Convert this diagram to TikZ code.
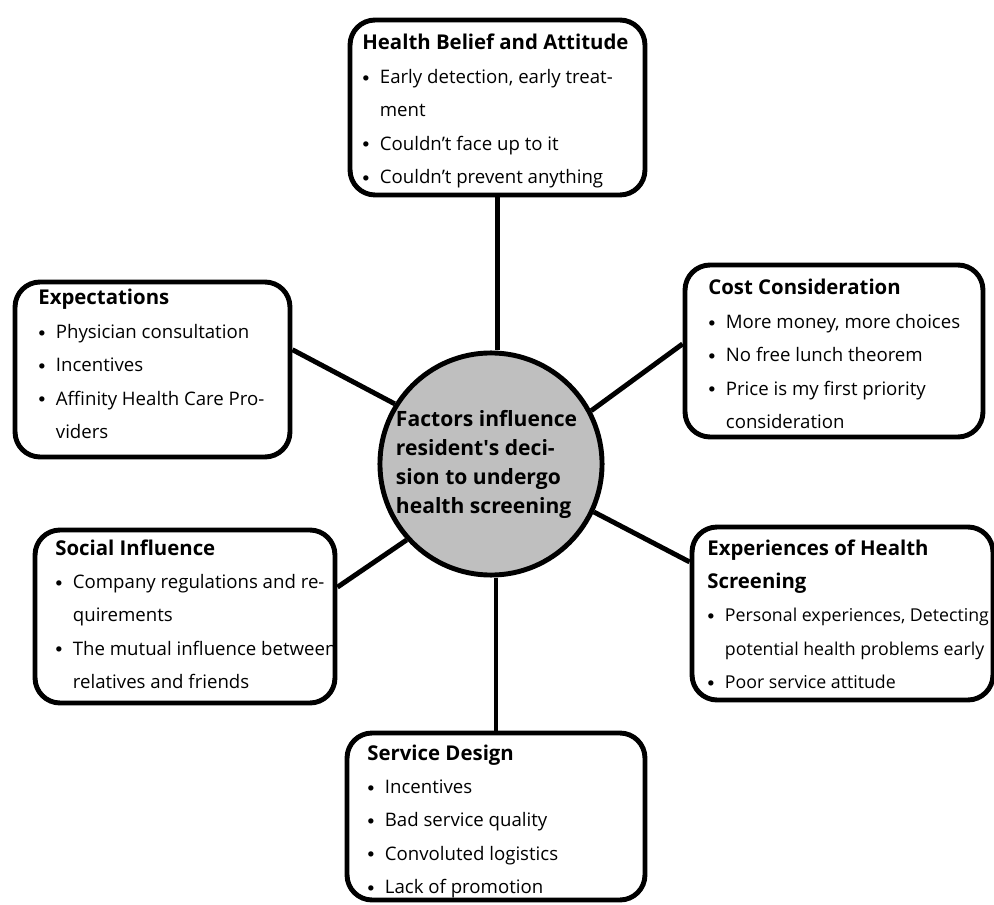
\documentclass[tikz,border=0pt]{standalone}
\usepackage{fontspec}
\setmainfont{Open Sans}
\usetikzlibrary{calc}

\newcommand{\itm}{\makebox[10pt][l]{\raisebox{1.3pt}{$\scriptstyle\bullet$}}}
\newcommand{\cnt}{\hspace*{10pt}}
\newcommand{\hd}[1]{{\fontsize{11.6}{19}\selectfont\bfseries #1}}

\begin{document}
\begin{tikzpicture}[x=0.02cm, y=-0.02cm,
	box/.style={draw, line width=2.8pt, rounded corners=0.5cm, inner sep=0pt},
	list/.style={anchor=base west, inner sep=0pt, font=\fontsize{10.6}{19}\selectfont},
	hub/.style={draw, circle, line width=2.8pt, fill=black!25, minimum size=4.4cm, inner sep=0pt, font=\fontsize{12}{16.6}\selectfont\bfseries},
	link/.style={line width=2.8pt}]
	
	\useasboundingbox (0,0) rectangle (994,905);
	
	% texte der kaestchen
	\node[list] (hbtext) at (362, 50) {\begin{tabular}[t]{@{}l@{}}
		\hd{Health Belief and Attitude}\\
		\itm Early detection, early treat-\\
		\cnt ment\\
		\itm Couldn’t face up to it\\
		\itm Couldn’t prevent anything
	\end{tabular}};
	\node[list] (extext) at (38, 305) {\begin{tabular}[t]{@{}l@{}}
		\hd{Expectations}\\
		\itm Physician consultation\\
		\itm Incentives\\
		\itm Affinity Health Care Pro-\\
		\cnt viders
	\end{tabular}};
	\node[list] (cotext) at (708, 295) {\begin{tabular}[t]{@{}l@{}}
		\hd{Cost Consideration}\\
		\itm More money, more choices\\
		\itm No free lunch theorem\\
		\itm Price is my first priority\\
		\cnt consideration
	\end{tabular}};
	\node[list] (sotext) at (55, 555) {\begin{tabular}[t]{@{}l@{}}
		\hd{Social Influence}\\
		\itm Company regulations and re-\\
		\cnt quirements\\
		\itm The mutual influence between\\
		\cnt relatives and friends
	\end{tabular}};
	\node[list, font=\fontsize{10.1}{19}\selectfont] (ehstext) at (707, 555) {\begin{tabular}[t]{@{}l@{}}
		\hd{Experiences of Health}\\
		\hd{Screening}\\
		\itm Personal experiences, Detecting\\
		\cnt potential health problems early\\
		\itm Poor service attitude
	\end{tabular}};
	\node[list] (sdtext) at (367, 760) {\begin{tabular}[t]{@{}l@{}}
		\hd{Service Design}\\
		\itm Incentives\\
		\itm Bad service quality\\
		\itm Convoluted logistics\\
		\itm Lack of promotion
	\end{tabular}};
	
	% kaestchen
	\node[box, minimum width=5.9cm, minimum height=3.5cm] (hb) at (497.5, 107.5) {};
	\node[box, minimum width=5.5cm, minimum height=3.5cm] (ex) at (152.5, 369.5) {};
	\node[box, minimum width=5.96cm, minimum height=3.44cm] (co) at (834, 351) {};
	\node[box, minimum width=6cm, minimum height=3.46cm] (so) at (185, 616.5) {};
	\node[box, minimum width=6.02cm, minimum height=3.46cm] (ehs) at (842.5, 613.5) {};
	\node[box, minimum width=5.96cm, minimum height=3.34cm] (sd) at (496, 816.5) {};
	
	% mitte
	\node[hub] (fac) at (491, 464) {\begin{tabular}{@{}l@{}}
		Factors influence\\
		resident\textquotesingle s deci-\\
		sion to undergo\\
		health screening
	\end{tabular}\hspace*{5pt}};
	
	% verbindungen
	\draw[link] (hb.south) -- (hb.south |- fac.north);
	\draw[link] ($(ex.north east)!0.39!(ex.south east)$) -- (fac.148);
	\draw[link] ($(co.north west)!0.46!(co.south west)$) -- (fac.28);
	\draw[link] ($(so.north east)!0.335!(so.south east)$) -- (fac.222);
	\draw[link] ($(ehs.north west)!0.21!(ehs.south west)$) -- (fac.335);
	\draw[link] (sd.north) -- (sd.north |- fac.south);
	
\end{tikzpicture}
\end{document}
